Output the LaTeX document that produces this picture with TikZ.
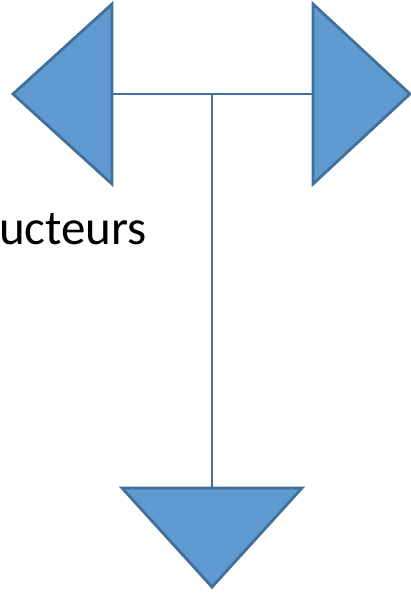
\documentclass[tikz,border=0pt]{standalone}
\usepackage{fontspec}
\setmainfont{Carlito}
\usepackage{tikz}

\begin{document}
\begin{tikzpicture}[x=1pt, y=-1pt]
\definecolor{ptrfill}{HTML}{5F9BD1}
\definecolor{ptrline}{HTML}{41709C}
\tikzset{pointer/.style={draw=ptrline, fill=ptrfill, line width=2.8pt, line join=miter}}
\tikzset{wire/.style={draw=ptrline, line width=2.6pt}}
\tikzset{label text/.style={font=\fontsize{49}{58}\selectfont, anchor=base west, inner sep=0pt}}
\useasboundingbox (0,0) rectangle (411,593);
% the three pointers
\coordinate (left base) at (112,94);
\coordinate (right base) at (313,94);
\coordinate (down base) at (212,487);
\coordinate (joint) at (212,94);
\path[pointer] (112,4) -- (112,184) -- (13,94) -- cycle;
\path[pointer] (313,4) -- (313,184) -- (410,94) -- cycle;
\path[pointer] (122,488) -- (302,488) -- (212,587) -- cycle;
% connectors
\draw[wire] (left base) -- (right base);
\draw[wire] (joint) -- (down base);
%\draw[help lines] (0,0) grid (411,593);
\node[label text] (word) at (-1,244) {ucteurs};
\end{tikzpicture}
\end{document}
